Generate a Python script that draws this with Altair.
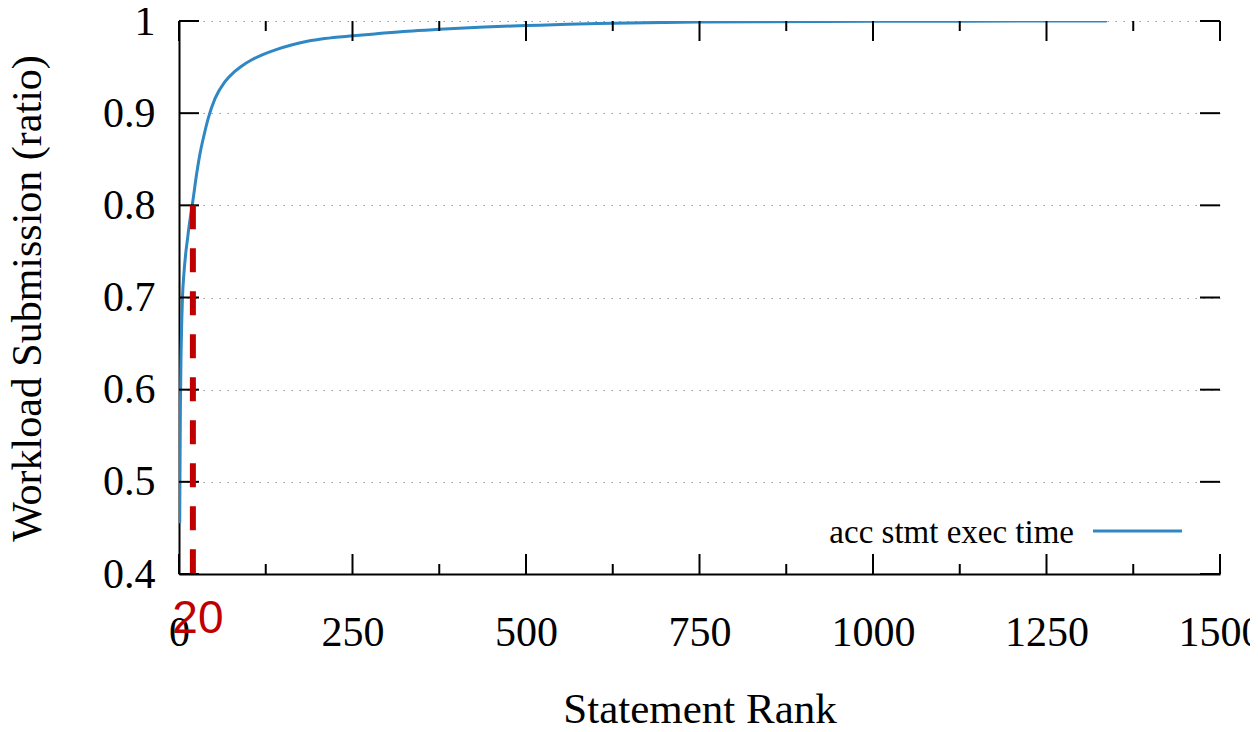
import altair as alt
import pandas as pd

# Curve: cumulative share of workload vs statement rank
ranks = [1, 2, 3, 4, 5, 7, 10, 12, 15, 18, 20, 25, 30, 36, 42, 52, 66, 80, 90, 105, 119,
         140, 162, 185, 210, 251, 282, 330, 375, 440, 500, 560, 625, 700, 750, 850,
         1000, 1100, 1250, 1337]
ratios = [0.455, 0.58, 0.64, 0.675, 0.70, 0.725, 0.75, 0.762, 0.78, 0.795, 0.805, 0.832, 0.855,
          0.876, 0.894, 0.916, 0.934, 0.945, 0.951, 0.958, 0.963, 0.969, 0.974, 0.978,
          0.981, 0.984, 0.986, 0.989, 0.991, 0.9935, 0.995, 0.9965, 0.9975, 0.9985, 0.999,
          0.9993, 0.9996, 0.9998, 0.9999, 1.0]

x_major = [0, 250, 500, 750, 1000, 1250, 1500]
x_minor = [125, 375, 625, 875, 1125, 1375]
y_major = [0.4, 0.5, 0.6, 0.7, 0.8, 0.9, 1.0]

marker_rank = [20]
marker_low = [0.4]
marker_high = [0.8]
marker_label = ["20"]
legend_label = ["acc stmt exec time"]

W, H = 1041, 553
SERIF = "Liberation Serif"
BLUE = "#2f87c4"
RED = "#c00000"

xs = alt.Scale(domain=[0, 1500], nice=False, zero=False)
ys = alt.Scale(domain=[0.4, 1.0], nice=False, zero=False)

x_axis = alt.Axis(
    values=x_major, format="d", title="Statement Rank",
    ticks=False, tickSize=0, labelPadding=38, labelFontSize=42,
    labelFont=SERIF, labelColor="black", labelFlush=False, labelOverlap=False,
    titleFont=SERIF, titleFontSize=43, titleFontWeight="normal", titleColor="black",
    titleX=520.5, titleY=148, titleBaseline="alphabetic",
    domainColor="black", domainWidth=2, grid=False)
y_axis = alt.Axis(
    values=y_major, format=".1~f", title="Workload Submission (ratio)",
    ticks=False, tickSize=0, labelPadding=24, labelFontSize=42,
    labelFont=SERIF, labelColor="black", labelFlush=False, labelOverlap=False,
    titleFont=SERIF, titleFontSize=42, titleFontWeight="normal", titleColor="black",
    titleX=-139, titleY=277, titleAngle=-90, titleBaseline="alphabetic", titleAlign="center",
    domainColor="black", domainWidth=2,
    grid=True, gridDash=[1.5, 6.5], gridColor="#999999", gridWidth=1.2)

curve_df = pd.DataFrame({"rank": ranks, "ratio": ratios})

line = alt.Chart(curve_df).mark_line(color=BLUE, strokeWidth=3, clip=True,
                                     interpolate="monotone").encode(
    x=alt.X("rank:Q", scale=xs, axis=x_axis),
    y=alt.Y("ratio:Q", scale=ys, axis=y_axis),
)

xmaj_df = pd.DataFrame({"t": x_major})
xmin_df = pd.DataFrame({"t": x_minor})
ymaj_df = pd.DataFrame({"v": y_major})

tick_style = dict(color="black", strokeWidth=2)
xt = alt.X("t:Q", scale=xs, axis=x_axis)
yt = alt.Y("v:Q", scale=ys, axis=y_axis)

ticks = [
    alt.Chart(xmaj_df).mark_rule(**tick_style).encode(x=xt, y=alt.value(H), y2=alt.value(H - 20)),
    alt.Chart(xmaj_df).mark_rule(**tick_style).encode(x=xt, y=alt.value(0), y2=alt.value(20)),
    alt.Chart(xmin_df).mark_rule(**tick_style).encode(x=xt, y=alt.value(H), y2=alt.value(H - 10)),
    alt.Chart(xmin_df).mark_rule(**tick_style).encode(x=xt, y=alt.value(0), y2=alt.value(10)),
    alt.Chart(ymaj_df).mark_rule(**tick_style).encode(y=yt, x=alt.value(0), x2=alt.value(20)),
    alt.Chart(ymaj_df).mark_rule(**tick_style).encode(y=yt, x=alt.value(W), x2=alt.value(W - 20)),
]

marker_df = pd.DataFrame({"rank": marker_rank, "lo": marker_low, "hi": marker_high,
                          "label": marker_label})

marker = alt.Chart(marker_df).mark_rule(color=RED, strokeWidth=6, strokeDash=[24, 19]).encode(
    x=alt.X("rank:Q", scale=xs, axis=x_axis),
    y=alt.Y("hi:Q", scale=ys, axis=y_axis),
    y2="lo:Q",
)

marker_text = alt.Chart(marker_df).mark_text(
    color=RED, font="Liberation Sans", fontSize=46, align="center",
    baseline="alphabetic", dx=5).encode(
    x=alt.X("rank:Q", scale=xs, axis=x_axis),
    y=alt.value(612),
    text="label:N",
)

leg_df = pd.DataFrame({"label": legend_label})
leg_text = alt.Chart(leg_df).mark_text(
    font=SERIF, fontSize=33, align="right", baseline="alphabetic", color="black").encode(
    text="label:N", x=alt.value(895), y=alt.value(522))
leg_line = alt.Chart(leg_df).mark_rule(color=BLUE, strokeWidth=3).encode(
    x=alt.value(914), x2=alt.value(1003), y=alt.value(510))

chart = alt.layer(line, *ticks, marker, marker_text, leg_text, leg_line).properties(
    width=W, height=H,
    padding={"left": 171, "top": 13, "right": 30, "bottom": 150},
    autosize=alt.AutoSizeParams(type="none"),
    background="white",
).configure_view(stroke=None)

chart.save("out.html", embed_options={"renderer": "svg", "actions": False})
